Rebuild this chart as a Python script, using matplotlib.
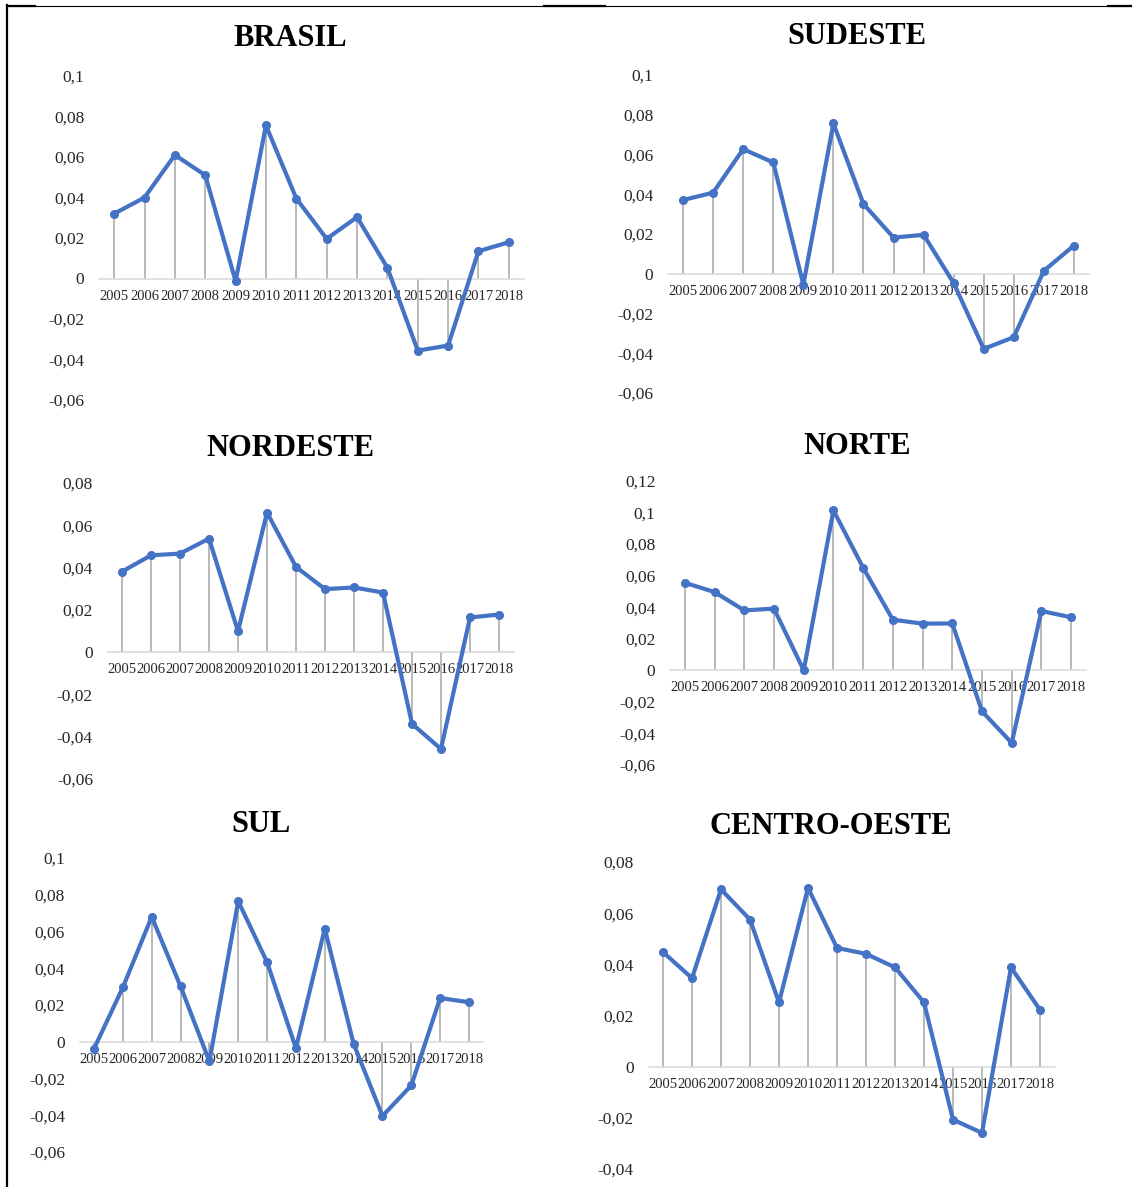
import matplotlib.pyplot as plt
import numpy as np
from matplotlib.lines import Line2D
from matplotlib.ticker import FuncFormatter

plt.rcParams['font.family'] = ['Liberation Serif', 'DejaVu Serif']

W, H = 1132, 1187
azul = '#4472C4'
cinza = '#A5A5A5'
eixo = '#D9D9D9'

anos = [str(a) for a in range(2005, 2019)]

brasil = [0.032, 0.040, 0.061, 0.051, -0.0013, 0.0756, 0.0395, 0.0196, 0.0303, 0.0053,
          -0.0356, -0.0331, 0.0135, 0.0179]
sudeste = [0.0371, 0.0408, 0.0627, 0.056, -0.0055, 0.0756, 0.0351, 0.0182, 0.0196, -0.0047,
           -0.0378, -0.0319, 0.0015, 0.0142]
nordeste = [0.0381, 0.0458, 0.0466, 0.0537, 0.0099, 0.066, 0.0403, 0.0298, 0.0306, 0.0282,
            -0.0339, -0.0458, 0.0164, 0.0178]
norte = [0.0555, 0.0496, 0.038, 0.0391, 0.0, 0.1014, 0.065, 0.0321, 0.0296, 0.0297,
         -0.026, -0.046, 0.0376, 0.0336]
sul = [-0.0038, 0.0296, 0.068, 0.0302, -0.0107, 0.0765, 0.0433, -0.0035, 0.0615, -0.0011,
       -0.0404, -0.0238, 0.0238, 0.0215]
centro_oeste = [0.0448, 0.0346, 0.0693, 0.0575, 0.0251, 0.0699, 0.0464, 0.0441, 0.0388, 0.0251,
                -0.0207, -0.0259, 0.0388, 0.0222]

# (titulo, dados, ymin, ymax, x esq, x dir, y topo, y base, titulo x, titulo y) em pixels
paineis = [
    ('BRASIL', brasil, -0.06, 0.10, 99, 524, 76, 400, 290, 38),
    ('SUDESTE', sudeste, -0.06, 0.10, 668, 1089, 75, 393, 857, 37),
    ('NORDESTE', nordeste, -0.06, 0.08, 107.5, 513.5, 483, 779, 290, 448),
    ('NORTE', norte, -0.06, 0.12, 670, 1086, 481, 765, 857, 447),
    ('SUL', sul, -0.06, 0.10, 79.6, 483.4, 858, 1152, 261, 825),
    ('CENTRO-OESTE', centro_oeste, -0.04, 0.08, 648.5, 1054.5, 862, 1169, 831, 826),
]

fmt = FuncFormatter(lambda v, p: f'{round(v, 2):g}'.replace('.', ','))

fig = plt.figure(figsize=(W / 100, H / 100), dpi=100)

for titulo, dados, y0, y1, xl, xr, yt, yb, tx, ty in paineis:
    ax = fig.add_axes([xl / W, 1 - yb / H, (xr - xl) / W, (yb - yt) / H])
    x = np.arange(len(dados))
    ax.vlines(x, 0, dados, color=cinza, lw=1.1, zorder=1.8)
    ax.plot(x, dados, color=azul, lw=3.0, marker='o', ms=5.5, zorder=3,
            solid_joinstyle='round')
    ax.set_xlim(-0.5, len(dados) - 0.5)
    ax.set_ylim(y0, y1)
    ax.set_yticks(np.arange(y0, y1 + 0.001, 0.02))
    ax.yaxis.set_major_formatter(fmt)
    ax.set_xticks(x)
    ax.set_xticklabels(anos)
    for s in ['top', 'right', 'left']:
        ax.spines[s].set_visible(False)
    ax.spines['bottom'].set_position(('data', 0))
    ax.spines['bottom'].set_color(eixo)
    ax.spines['bottom'].set_linewidth(1.1)
    ax.tick_params(axis='y', length=0, pad=10.5, labelsize=12.5, labelcolor='#262626')
    ax.tick_params(axis='x', length=0, pad=8, labelsize=10.5, labelcolor='#262626')
    ax.patch.set_visible(False)
    fig.text(tx / W, 1 - ty / H, titulo, ha='center', va='center',
             fontsize=22, fontweight='bold')

# moldura da tabela
fig.add_artist(Line2D([7 / W, 7 / W], [1 - 5 / H, 0], color='black', lw=1.6))
fig.add_artist(Line2D([7 / W, 1], [1 - 5.5 / H, 1 - 5.5 / H], color='black', lw=0.8))
for a, b in [(7, 35), (544, 605), (1108, 1132)]:
    fig.add_artist(Line2D([a / W, b / W], [1 - 6 / H, 1 - 6 / H], color='black', lw=1.6))

fig.savefig('out.png', dpi=100)
